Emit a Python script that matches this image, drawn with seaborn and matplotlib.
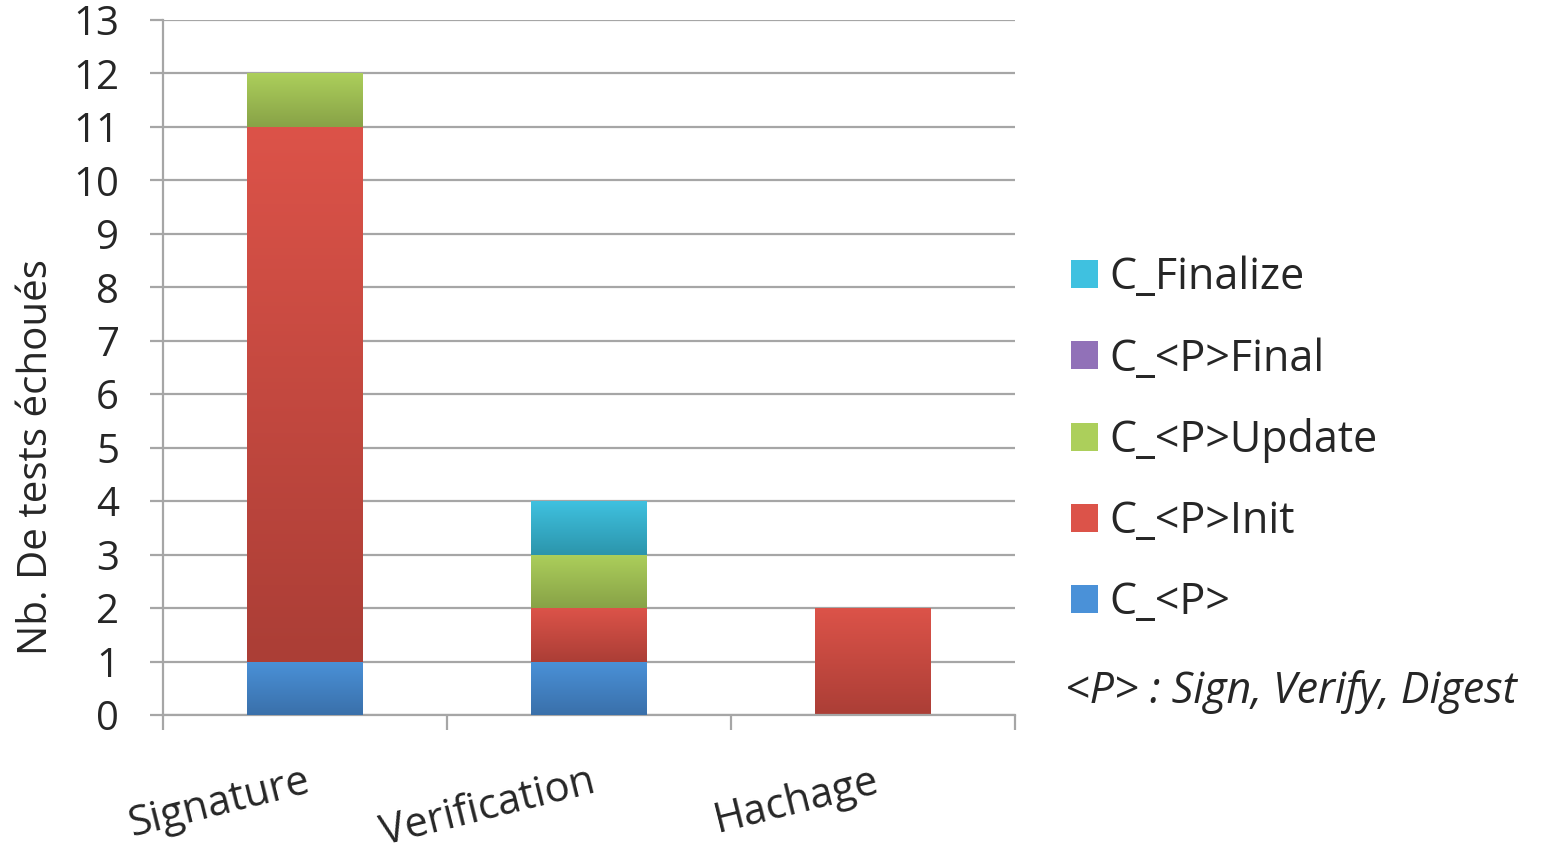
import numpy as np
import pandas as pd
import matplotlib
matplotlib.use("Agg")
import matplotlib.pyplot as plt
import seaborn as sns
from matplotlib.colors import LinearSegmentedColormap
from matplotlib.patches import Patch

categories = ["Signature", "Verification", "Hachage"]
series_names = ["C_<P>", "C_<P>Init", "C_<P>Update", "C_<P>Final", "C_Finalize"]
c_p = [1, 1, 0]
c_p_init = [10, 1, 2]
c_p_update = [1, 1, 0]
c_p_final = [0, 0, 0]
c_finalize = [0, 1, 0]
y_ticks = list(range(0, 14))
ylabel = "Nb. De tests échoués"
note = "<P> : Sign, Verify, Digest"

# (top colour, bottom colour) per series
grad_colors = [
    ("#4a91d8", "#3a70aa"),
    ("#dc5349", "#ab3e36"),
    ("#accf5b", "#88a247"),
    ("#9171b8", "#6e5394"),
    ("#3fc1e0", "#2c95ab"),
]

sns.set_theme(style="white")
FONT = ["Open Sans", "DejaVu Sans"]
plt.rcParams["font.family"] = FONT

fig = plt.figure(figsize=(15.44, 8.55), dpi=100)
ax = fig.add_axes([163 / 1544, 1 - 715 / 855, (1015 - 163) / 1544, (715 - 20) / 855])

values = [c_p, c_p_init, c_p_update, c_p_final, c_finalize]
df = pd.DataFrame({name: v for name, v in zip(series_names, values)}, index=categories)
cum = df.cumsum(axis=1)

bar_w = 0.405
n = len(series_names)
# cumulative bars from the top series downward; each lower layer covers the upper ones
for k in range(n - 1, -1, -1):
    name = series_names[k]
    top_c, bot_c = grad_colors[k]
    before = len(ax.patches)
    sns.barplot(x=categories, y=cum[name].values, color=top_c, width=bar_w,
                ax=ax, saturation=1, linewidth=0, zorder=2 + (n - k) * 0.1,
                order=categories)
    new_patches = ax.patches[before:]
    prev = cum[series_names[k - 1]].values if k > 0 else np.zeros(len(categories))
    cmap = LinearSegmentedColormap.from_list(f"g{k}", [bot_c, top_c])
    for i, p in enumerate(new_patches):
        y0, y1 = prev[i], cum[name].values[i]
        if y1 - y0 <= 0:
            continue
        x0 = p.get_x()
        x1 = x0 + p.get_width()
        im = ax.imshow(np.linspace(0, 1, 256).reshape(-1, 1), cmap=cmap,
                       extent=[x0, x1, y0, y1], origin="lower", aspect="auto",
                       zorder=p.get_zorder() + 0.01, interpolation="bilinear")
        im.set_clip_path(p)

ax.set_xlim(-0.5, 2.5)
ax.set_ylim(0, 13)
ax.set_aspect("auto")
ax.set_yticks(y_ticks)
ax.set_yticklabels([str(t) for t in y_ticks], fontsize=29)
ax.yaxis.grid(True, color="#a6a6a6", linewidth=1.6)
ax.set_axisbelow(True)
ax.tick_params(axis="y", which="major", left=True, length=9.5, width=1.6,
               color="#a6a6a6", pad=22)

ax.set_xticks([0, 1, 2])
ax.set_xticklabels(categories, fontsize=30, rotation=14, ha="right",
                   rotation_mode="anchor")
ax.set_xticks([-0.5, 0.5, 1.5, 2.5], minor=True)
ax.tick_params(axis="x", which="major", bottom=False, length=0, pad=33)
ax.tick_params(axis="x", which="minor", bottom=True, length=11, width=1.6,
               color="#a6a6a6")

for s in ["top", "right"]:
    ax.spines[s].set_visible(False)
for s in ["left", "bottom"]:
    ax.spines[s].set_color("#a6a6a6")
    ax.spines[s].set_linewidth(1.6)

ax.set_xlabel("")
ax.set_ylabel("")
fig.text(37 / 1544, 1 - 457 / 855, ylabel, fontsize=29, rotation=90,
         ha="center", va="center")

# legend (reverse order as in the reference)
handles = [Patch(facecolor=grad_colors[k][0], edgecolor="none") for k in range(n)][::-1]
labels = series_names[::-1]
leg = fig.legend(handles, labels, loc="upper left",
                 bbox_to_anchor=(1071 / 1544, 1 - 256 / 855),
                 frameon=False, fontsize=31, handlelength=0.62, handleheight=0.62,
                 handletextpad=0.28, labelspacing=0.85, borderaxespad=0,
                 borderpad=0)

fig.text(1065 / 1544, 1 - 692 / 855, note, fontsize=31, style="italic",
         ha="left", va="center")

fig.savefig("out.png", dpi=100)
